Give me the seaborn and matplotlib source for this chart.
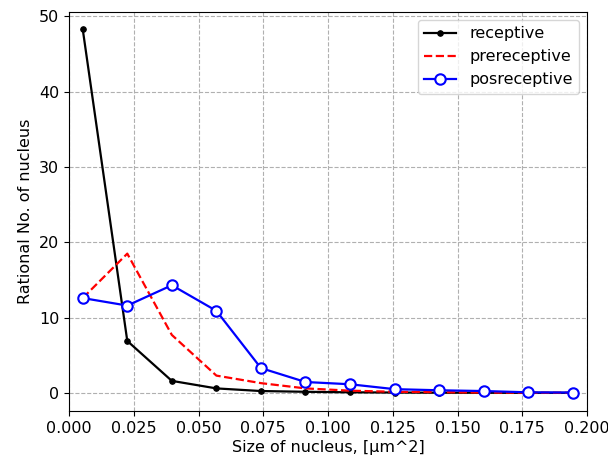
import matplotlib
matplotlib.use("Agg")
import matplotlib.pyplot as plt
import seaborn as sns
import pandas as pd

sizes = [0.0053, 0.0225, 0.0397, 0.0569, 0.0741, 0.0913, 0.1085, 0.1257, 0.1429, 0.1601, 0.1773, 0.1945]
receptive = [48.3, 6.9, 1.6, 0.6, 0.25, 0.15, 0.08, 0.05, 0.03, 0.02, 0.01, 0.01]
prereceptive = [12.6, 18.5, 7.7, 2.3, 1.3, 0.6, 0.3, 0.15, 0.1, 0.05, 0.03, 0.02]
posreceptive = [12.6, 11.6, 14.3, 10.9, 3.3, 1.45, 1.15, 0.5, 0.35, 0.25, 0.08, 0.05]

df = pd.DataFrame({"size": sizes, "receptive": receptive,
                   "prereceptive": prereceptive, "posreceptive": posreceptive})

plt.rcParams["font.size"] = 11.5

fig = plt.figure(figsize=(6.08, 4.59), dpi=100)
ax = fig.add_axes([0.1135, 0.1046, 0.852, 0.8694])

sns.lineplot(data=df, x="size", y="receptive", ax=ax, color="black", marker=".",
             markersize=8, markeredgecolor="black", linewidth=1.6, label="receptive")
sns.lineplot(data=df, x="size", y="prereceptive", ax=ax, color="red", linestyle="--",
             linewidth=1.6, label="prereceptive")
sns.lineplot(data=df, x="size", y="posreceptive", ax=ax, color="blue", marker="o",
             markersize=7.5, markerfacecolor="white", markeredgecolor="blue",
             markeredgewidth=1.5, linewidth=1.6, label="posreceptive")

ax.set_xlim(0, 0.2)
ax.set_ylim(-2.4, 50.6)
ax.set_xticks([0.0, 0.025, 0.05, 0.075, 0.1, 0.125, 0.15, 0.175, 0.2])
ax.set_xticklabels(["0.000", "0.025", "0.050", "0.075", "0.100", "0.125", "0.150", "0.175", "0.200"])
ax.set_yticks([0, 10, 20, 30, 40, 50])
ax.grid(True, linestyle="--", color="#b0b0b0", linewidth=0.8)
ax.set_xlabel("Size of nucleus, [µm^2]", labelpad=3)
ax.set_ylabel("Rational No. of nucleus")
ax.legend(loc="upper right")

fig.savefig("out.png", dpi=100)
